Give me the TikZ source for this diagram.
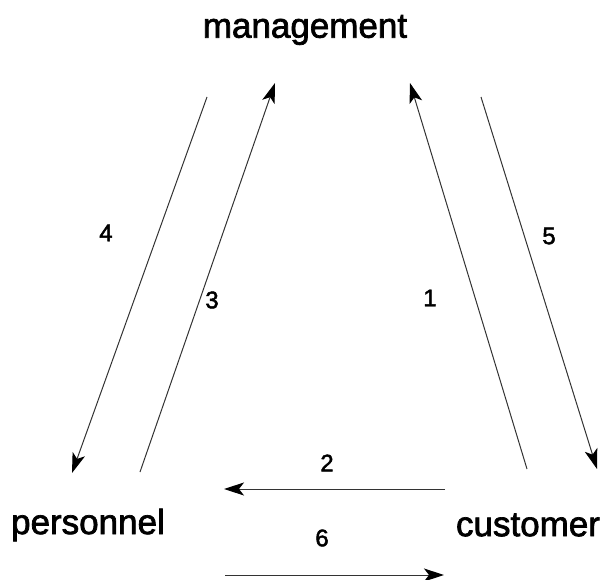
\documentclass[tikz,border=0pt]{standalone}
\usepackage{fontspec}
\setmainfont{Liberation Sans}
\newfontfamily\heavysans{Liberation Sans}[FakeBold=2]
\usetikzlibrary{arrows.meta}
\begin{document}
\begin{tikzpicture}[x=1pt,y=-1pt,
  party/.style={inner sep=0pt, font=\heavysans\fontsize{35}{40}\selectfont},
  flowlabel/.style={inner sep=0pt, font=\heavysans\fontsize{24}{28}\selectfont},
  flow/.style={draw=black!80, line width=1pt,
    -{Stealth[length=20pt,width=13pt,inset=5pt,color=black]}}]
\useasboundingbox (0,0) rectangle (605,580);
% the three parties
\node[party] (management) at (305,30) {management};
\node[party] (personnel) at (88,525) {personnel};
\node[party] (customer) at (528,525) {customer};
% end points of the flows
\coordinate (p4s) at (207,97);   \coordinate (p4e) at (72,473);
\coordinate (p3s) at (140,472);  \coordinate (p3e) at (275,83);
\coordinate (p1s) at (527,469);  \coordinate (p1e) at (410,83);
\coordinate (p5s) at (481,97);   \coordinate (p5e) at (597,469);
\coordinate (p2s) at (445,489);  \coordinate (p2e) at (224,489);
\coordinate (p6s) at (225,575);  \coordinate (p6e) at (444,575);
% flows
\draw[flow] (p4s) -- (p4e);
\draw[flow] (p3s) -- (p3e);
\draw[flow] (p1s) -- (p1e);
\draw[flow] (p5s) -- (p5e);
\draw[flow] (p2s) -- (p2e);
\draw[flow] (p6s) -- (p6e);
% flow numbers
\node[flowlabel] (l4) at (106,233) {4};
\node[flowlabel] (l3) at (212,300) {3};
\node[flowlabel] (l1) at (430,298) {1};
\node[flowlabel] (l5) at (549,236) {5};
\node[flowlabel] (l2) at (327,463) {2};
\node[flowlabel] (l6) at (322,538) {6};
\end{tikzpicture}
\end{document}
